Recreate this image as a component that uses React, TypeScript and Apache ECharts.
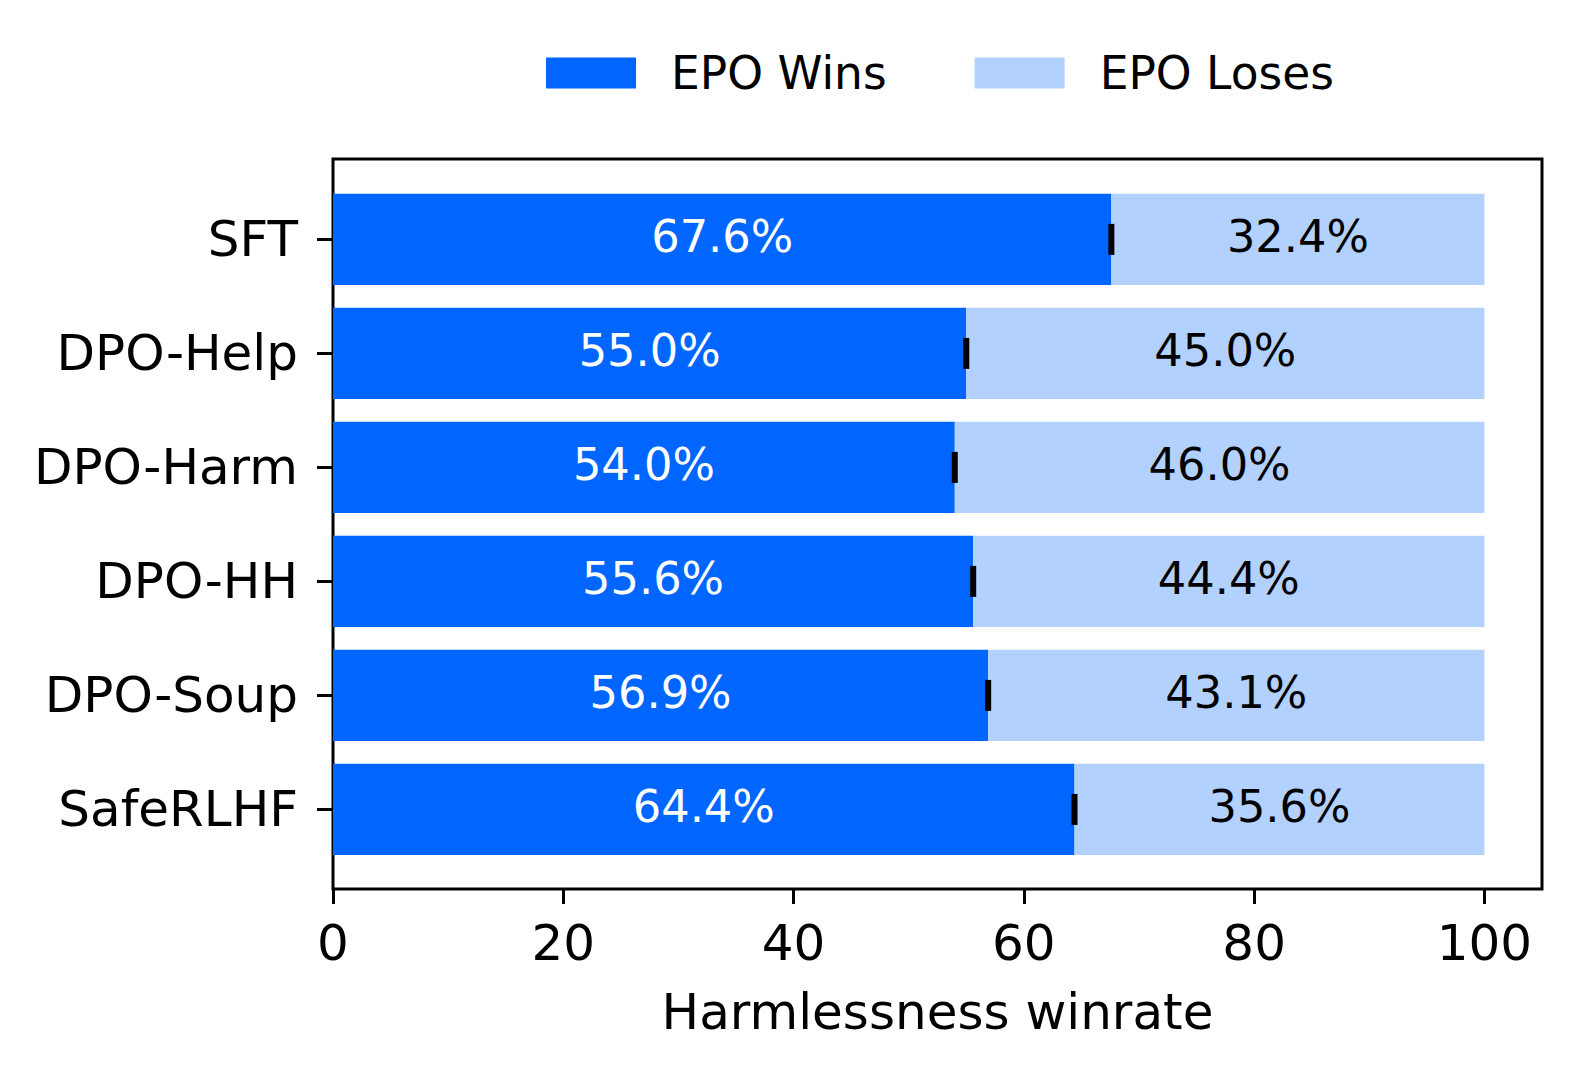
import React, { useEffect, useRef } from "react";
import * as echarts from "echarts";

const categories = ["SFT", "DPO-Help", "DPO-Harm", "DPO-HH", "DPO-Soup", "SafeRLHF"];
const winValues = [67.6, 55.0, 54.0, 55.6, 56.9, 64.4];
const loseValues = [32.4, 45.0, 46.0, 44.4, 43.1, 35.6];
const xTicks = [0, 20, 40, 60, 80, 100];
const seriesNames = ["EPO Wins", "EPO Loses"];
const xName = "Harmlessness winrate";

const FONT = "DejaVu Sans";
const FS_AXIS = 50;
const FS_LEG = 45.5;
const FS_VAL = 44.7;

export default function App() {
  const ref = useRef<HTMLDivElement>(null);
  useEffect(() => {
    document.body.style.margin = "0";
    const chart = echarts.init(ref.current!, null, { renderer: "svg" });
    const left = 333;
    const right = 1577 - 1542;
    chart.setOption({
      animation: false,
      backgroundColor: "#fff",
      textStyle: { fontFamily: FONT },
      legend: {
        data: seriesNames,
        left: 541,
        top: 45,
        itemWidth: 90,
        itemHeight: 31,
        itemGap: 88,
        icon: "rect",
        textStyle: { fontFamily: FONT, fontSize: FS_LEG, color: "#000", padding: [0, 0, 0, 30] },
      },
      grid: [
        { left, right, top: 159, height: 730, show: true, borderColor: "#000", borderWidth: 3, backgroundColor: "transparent" },
        { left, right, top: 182.4, height: 684 },
      ],
      xAxis: [
        {
          gridIndex: 0,
          type: "value",
          min: 0,
          max: 105,
          interval: 20,
          axisLine: { show: false },
          splitLine: { show: false },
          axisTick: { show: true, length: 15, lineStyle: { color: "#000", width: 3 }, customValues: xTicks },
          axisLabel: { customValues: xTicks, fontFamily: FONT, fontSize: FS_AXIS, color: "#000", margin: 29 },
          name: xName,
          nameLocation: "middle",
          nameGap: 98,
          nameTextStyle: { fontFamily: FONT, fontSize: FS_AXIS, color: "#000" },
        },
        { gridIndex: 1, type: "value", min: 0, max: 105, show: false },
      ],
      yAxis: [
        { gridIndex: 0, type: "value", show: false, min: 0, max: 1 },
        {
          gridIndex: 1,
          type: "category",
          data: categories,
          inverse: true,
          axisLine: { show: false },
          axisTick: { show: true, alignWithLabel: true, length: 16, lineStyle: { color: "#000", width: 3 } },
          axisLabel: { fontFamily: FONT, fontSize: FS_AXIS, color: "#000", margin: 35 },
        },
      ],
      series: [
        {
          name: seriesNames[0],
          type: "bar",
          stack: "t",
          xAxisIndex: 1,
          yAxisIndex: 1,
          barWidth: "80%",
          data: winValues,
          itemStyle: { color: "#0066ff" },
          label: {
            show: true,
            position: "inside",
            offset: [0, -2],
            color: "#fff",
            fontFamily: FONT,
            fontSize: FS_VAL,
            formatter: (p: any) => p.value.toFixed(1) + "%",
          },
        },
        {
          name: seriesNames[1],
          type: "bar",
          stack: "t",
          xAxisIndex: 1,
          yAxisIndex: 1,
          barWidth: "80%",
          data: loseValues,
          itemStyle: { color: "#b3d1ff" },
          label: {
            show: true,
            position: "inside",
            offset: [0, -2],
            color: "#000",
            fontFamily: FONT,
            fontSize: FS_VAL,
            formatter: (p: any) => p.value.toFixed(1) + "%",
          },
        },
        {
          name: "err",
          type: "scatter",
          xAxisIndex: 1,
          yAxisIndex: 1,
          symbol: "rect",
          symbolSize: [6, 31],
          itemStyle: { color: "#000", opacity: 1 },
          z: 5,
          data: winValues.map((v, i) => [v, categories[i]]),
        },
      ],
    });
    return () => chart.dispose();
  }, []);
  return <div ref={ref} style={{ width: 1577, height: 1076 }} />;
}
